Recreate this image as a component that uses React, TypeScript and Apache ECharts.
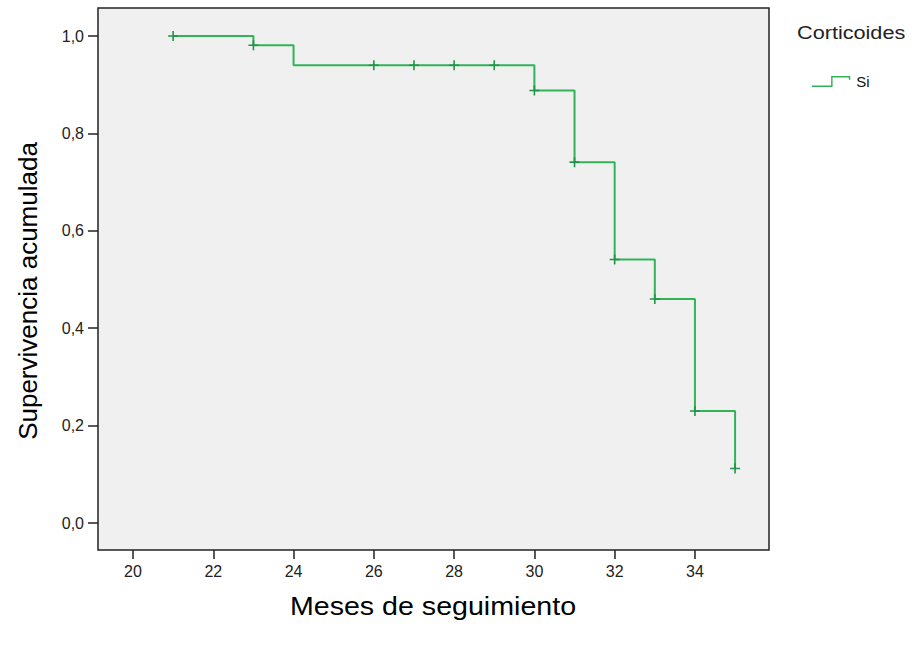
import React, { useEffect, useRef } from "react";
import * as echarts from "echarts";

// Kaplan-Meier step points (time, cumulative survival)
const eventTimes = [21, 23, 24, 30, 31, 32, 33, 34, 35];
const survival = [1.0, 0.981, 0.94, 0.888, 0.741, 0.541, 0.46, 0.23, 0.112];

// Censored observations
const censorTimes = [21, 23, 26, 27, 28, 29, 30, 31, 32, 33, 34, 35];
const censorSurvival = [1.0, 0.981, 0.94, 0.94, 0.94, 0.94, 0.888, 0.741, 0.541, 0.46, 0.23, 0.112];

const xTicks = [20, 22, 24, 26, 28, 30, 32, 34];
const yTicks = [0, 0.2, 0.4, 0.6, 0.8, 1.0];

const groupName = "Si";
const legendTitle = "Corticoides";
const xTitle = "Meses de seguimiento";
const yTitle = "Supervivencia acumulada";

const FONT = "Arial, 'Liberation Sans', Helvetica, sans-serif";
const GREEN = "#30b457";
const MARK = "#22944a";

export default function App() {
  const ref = useRef<HTMLDivElement>(null);
  useEffect(() => {
    if (!ref.current) return;
    const chart = echarts.init(ref.current, null, { renderer: "svg" });
    const option = {
      animation: false,
      backgroundColor: "#ffffff",
      grid: {
        left: 98,
        top: 8,
        right: 143,
        bottom: 105,
        show: true,
        backgroundColor: "#f0f0f0",
        borderColor: "#222222",
        borderWidth: 1.5,
      },
      xAxis: {
        type: "value",
        min: 19.128,
        max: 35.845,
        axisLine: { show: false, onZero: false },
        splitLine: { show: false },
        axisTick: {
          show: true,
          length: 9,
          customValues: xTicks,
          lineStyle: { color: "#222222", width: 1.5 },
        },
        axisLabel: {
          customValues: xTicks,
          margin: 13,
          color: "#222222",
          fontSize: 16,
          fontFamily: FONT,
        },
      },
      yAxis: {
        type: "value",
        min: -0.0554,
        max: 1.0575,
        axisLine: { show: false, onZero: false },
        splitLine: { show: false },
        axisTick: {
          show: true,
          length: 10,
          customValues: yTicks,
          lineStyle: { color: "#222222", width: 1.5 },
        },
        axisLabel: {
          customValues: yTicks,
          margin: 14,
          color: "#222222",
          fontSize: 16,
          fontFamily: FONT,
          formatter: (v: number) => v.toFixed(1).replace(".", ","),
        },
      },
      legend: {
        data: [groupName],
        left: 812,
        top: 74,
        orient: "vertical",
        itemWidth: 40,
        itemHeight: 11,
        itemGap: 5,
        padding: 0,
        icon: "path://M0,10 H20 V0 H40 V4 H38.5 V1.5 H21.5 V11.5 H0 Z",
        textStyle: { fontSize: 15, fontFamily: FONT, color: "#111111", padding: [0, 0, 0, 0] },
        selectedMode: false,
      },
      graphic: [
        {
          type: "text",
          x: 797,
          y: 32,
          scaleX: 1.14,
          style: {
            text: legendTitle,
            fontSize: 19,
            fontFamily: FONT,
            fill: "#222222",
            align: "left",
            verticalAlign: "middle",
          },
        },
        {
          type: "text",
          x: 433,
          y: 606,
          scaleX: 1.1,
          style: {
            text: xTitle,
            fontSize: 26,
            fontFamily: FONT,
            fill: "#000000",
            align: "center",
            verticalAlign: "middle",
          },
        },
        {
          type: "text",
          x: 28,
          y: 291,
          rotation: Math.PI / 2,
          style: {
            text: yTitle,
            fontSize: 26,
            fontFamily: FONT,
            fill: "#000000",
            align: "center",
            verticalAlign: "middle",
          },
        },
      ],
      series: [
        {
          name: groupName,
          type: "line",
          step: "end",
          data: eventTimes.map((t, i) => [t, survival[i]]),
          symbol: "none",
          lineStyle: { color: GREEN, width: 2 },
          itemStyle: { color: GREEN },
        },
        {
          name: "censored",
          type: "scatter",
          data: censorTimes.map((t, i) => [t, censorSurvival[i]]),
          symbol: "path://M4.2,0 H5.8 V10 H4.2 Z M0,4.2 H10 V5.8 H0 Z",
          symbolSize: [10, 10],
          itemStyle: { color: MARK, opacity: 1 },
          z: 3,
        },
      ],
    };
    chart.setOption(option as any);
    return () => chart.dispose();
  }, []);
  return (
    <div
      ref={ref}
      style={{ position: "fixed", left: 0, top: 0, width: 912, height: 655 }}
    />
  );
}
